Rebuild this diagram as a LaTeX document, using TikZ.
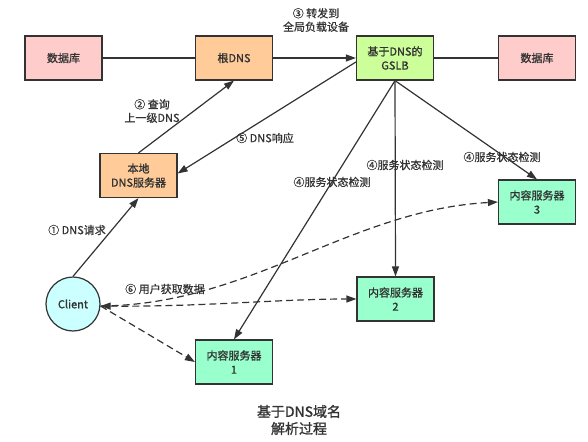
\documentclass[tikz,border=0pt]{standalone}
\usepackage{fontspec}
\setmainfont{Noto Sans CJK SC}
\newfontfamily\boxfont{Noto Sans CJK SC}[FakeBold=1.2]
\newfontfamily\lblfont{Noto Sans CJK SC}[FakeBold=0.6]
\usetikzlibrary{arrows.meta}
\definecolor{dbfill}{HTML}{FFCCCC}
\definecolor{dnsfill}{HTML}{FFCC99}
\definecolor{gslbfill}{HTML}{CCFF99}
\definecolor{srvfill}{HTML}{99FFCC}
\definecolor{clifill}{HTML}{CCFFFF}
\definecolor{edge}{HTML}{333333}
\definecolor{txt}{HTML}{333333}
\tikzset{
  mytip/.tip={Triangle[length=10pt,width=7pt]},
  box/.style={draw=edge, line width=1.2pt, minimum width=77pt, minimum height=44pt, align=center, font=\boxfont\fontsize{11}{14}\selectfont, text=txt, inner sep=1pt},
  lbl/.style={align=center, font=\lblfont\fontsize{11}{13.5}\selectfont, text=txt, inner sep=0pt},
  conn/.style={draw=edge, line width=1.2pt},
  arr/.style={conn, -mytip},
  darr/.style={conn, dash pattern=on 7pt off 4pt}
}
\begin{document}
\begin{tikzpicture}[x=1pt,y=-1pt]
\useasboundingbox[fill=white] (0,0) rectangle (588,441);
% nodes
\node[box, fill=dbfill] (db1) at (63.5,58) {数据库};
\node[box, fill=dnsfill] (root) at (234,58) {根DNS};
\node[box, fill=gslbfill] (gslb) at (395,58) {基于DNS的\\GSLB};
\node[box, fill=dbfill] (db2) at (537,58) {数据库};
\node[box, fill=dnsfill] (local) at (138.5,175.5) {本地\\DNS服务器};
\node[draw=edge, line width=1.2pt, circle, minimum size=54pt, inner sep=0pt, fill=clifill, text=txt, font=\boxfont\fontsize{11}{13}\selectfont] (client) at (73,304) {Client};
\node[box, fill=srvfill] (s1) at (234,362) {内容服务器\\1};
\node[box, fill=srvfill] (s2) at (395.5,299) {内容服务器\\2};
\node[box, fill=srvfill] (s3) at (537,202) {内容服务器\\3};
% labels
\node[lbl] (l3) at (316,20) {③ 转发到\\全局负载设备};
\node[lbl] (l2) at (152,111) {② 查询\\上一级DNS};
\node[lbl] (l5) at (265,138) {⑤ DNS响应};
\node[lbl] (l1) at (77,230) {① DNS请求};
\node[lbl] (l4a) at (332,182) {④服务状态检测};
\node[lbl] (l4b) at (405,165) {④服务状态检测};
\node[lbl] (l4c) at (502,157) {④服务状态检测};
\node[lbl] (l6) at (165,289) {⑥ 用户获取数据};
\node[lbl, font=\boxfont\fontsize{14}{17}\selectfont] (title) at (299,420) {基于DNS域名\\解析过程};
% connectors
\draw[conn] (db1.east) -- (root.west);
\draw[arr] (root.east) -- (gslb.west);
\draw[conn] (gslb.east) -- (db2.west);
\draw[arr] (client.north) -- (local.south);
\draw[arr] (local.north) -- (root.south);
\draw[arr] ([yshift=-4pt]gslb.west) -- ([yshift=2pt]local.east);
\draw[arr] (gslb.south) -- (s1.north);
\draw[arr] (gslb.south) -- (s2.north);
\draw[arr] (gslb.south) -- (s3.north);
% dashed data flows
\draw[darr, mytip-mytip] ([yshift=-2pt]client.east) .. controls (200,307) and (280,299) .. (s2.west);
\draw[darr, -mytip] ([yshift=-2pt]client.east) -- (s1.west);
\draw[darr, -mytip] ([yshift=-2pt]client.east) .. controls (250,305) and (350,210) .. (s3.west);
\end{tikzpicture}
\end{document}
